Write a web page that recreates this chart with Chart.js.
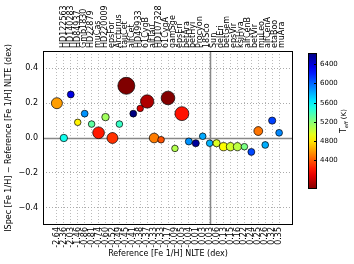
<!DOCTYPE html>
<html>
<head>
<meta charset="utf-8">
<script src="https://cdn.jsdelivr.net/npm/chart.js@4.4.0/dist/chart.umd.min.js"></script>
<style>
  body { margin: 0; background: #fff; }
  canvas { display: block; }
</style>
</head>
<body>
<canvas id="feChart" width="354" height="264"></canvas>
<script>
// данные
const stars = ['HD122563', 'HD140283', 'HD84937', 'Gmb1830', 'HD22879', 'muCas', 'HD220009', 'epsFor', 'Arcturus', 'tauCet', 'alfCet', 'HD49933', '61CygB', 'alfTau', 'HD107328', '61CygA', 'gamSge', 'epsEri', 'betAra', 'betHyi', 'Procyon', '18Sco', 'Sun', 'delEri', 'betGem', 'epsVir', 'ksiHya', 'alfCenB', 'betVir', 'muLeo', 'alfCenA', 'etaBoo', 'muAra'];
const refFeH = ['-2.64', '-2.36', '-2.03', '-1.46', '-0.86', '-0.81', '-0.74', '-0.60', '-0.52', '-0.49', '-0.45', '-0.41', '-0.38', '-0.37', '-0.33', '-0.33', '-0.17', '-0.09', '-0.05', '-0.04', '0.01', '0.03', '0.03', '0.06', '0.13', '0.15', '0.16', '0.22', '0.24', '0.25', '0.26', '0.32', '0.35'];
const diffFeH = [0.20, 0.00, 0.25, 0.09, 0.14, 0.08, 0.03, 0.12, 0.00, 0.08, 0.30, 0.14, 0.17, 0.21, 0.00, -0.01, 0.23, -0.06, 0.14, -0.02, -0.03, 0.01, -0.03, -0.03, -0.05, -0.05, -0.05, -0.05, -0.08, 0.04, -0.04, 0.10, 0.03];
const teff = [4587, 5522, 6356, 4827, 5868, 5308, 4217, 5123, 4286, 5414, 3796, 6635, 4044, 3927, 4496, 4374, 3807, 5076, 4197, 5873, 6554, 5810, 5777, 4954, 4858, 4983, 5044, 5231, 6083, 4474, 5792, 6099, 5902];
const logg = [1.61, 3.58, 4.15, 4.60, 4.27, 4.49, 1.43, 3.52, 1.64, 4.49, 0.68, 4.20, 4.67, 1.11, 2.09, 4.43, 1.05, 4.61, 1.01, 3.98, 4.00, 4.44, 4.44, 3.75, 2.90, 2.77, 2.88, 4.53, 4.10, 2.51, 4.31, 3.80, 4.30];
const yTicks = [-0.4, -0.2, 0.0, 0.2, 0.4];
const teffTicks = [4400, 4800, 5200, 5600, 6000, 6400];
const sunIndex = stars.indexOf('Sun');

const FONT = 'DejaVu Sans';
const tMin = Math.min(...teff);
const tMax = Math.max(...teff);

// jet_r: горячие звёзды синие, холодные красные
function jet(t) {
    const c = v => Math.round(255 * Math.max(0, Math.min(1, v)));
    return 'rgb(' + c(1.5 - Math.abs(4 * t - 3)) + ',' + c(1.5 - Math.abs(4 * t - 2)) + ',' + c(1.5 - Math.abs(4 * t - 1)) + ')';
}
function teffColor(T) {
    return jet(1 - (T - tMin) / (tMax - tMin));
}

// рамка, нулевая линия и линия Солнца
const framePlugin = {
    id: 'frame',
    beforeDatasetsDraw(chart) {
        const { ctx, chartArea: a, scales } = chart;
        ctx.save();
        ctx.strokeStyle = '#888';
        ctx.lineWidth = 1.5;
        const y0 = Math.round(scales.y.getPixelForValue(0)) + 0.5;
        const xs = Math.round(scales.x.getPixelForValue(sunIndex)) + 0.5;
        ctx.beginPath();
        ctx.moveTo(a.left, y0); ctx.lineTo(a.right, y0);
        ctx.moveTo(xs, a.top); ctx.lineTo(xs, a.bottom);
        ctx.stroke();
        ctx.strokeStyle = '#000';
        ctx.lineWidth = 1;
        ctx.strokeRect(a.left + 0.5, a.top + 0.5, a.right - a.left - 1, a.bottom - a.top - 1);
        ctx.restore();
    }
};

// цветовая шкала Teff
const colorbarPlugin = {
    id: 'colorbar',
    afterDraw(chart) {
        const ctx = chart.ctx;
        const left = 308, width = 9, top = 53, bottom = 189;
        const yOf = T => bottom - (T - tMin) / (tMax - tMin) * (bottom - top);
        const grad = ctx.createLinearGradient(0, top, 0, bottom);
        for (let i = 0; i <= 20; i++) {
            grad.addColorStop(i / 20, jet(i / 20));
        }
        ctx.save();
        ctx.fillStyle = grad;
        ctx.fillRect(left, top, width, bottom - top);
        ctx.strokeStyle = '#000';
        ctx.lineWidth = 1;
        ctx.strokeRect(left + 0.5, top + 0.5, width - 1, bottom - top - 1);
        ctx.fillStyle = '#000';
        ctx.font = '7px "' + FONT + '"';
        ctx.textAlign = 'left';
        ctx.textBaseline = 'middle';
        teffTicks.forEach(T => {
            const y = Math.round(yOf(T)) + 0.5;
            ctx.beginPath();
            ctx.moveTo(left + width - 3, y); ctx.lineTo(left + width, y);
            ctx.stroke();
            ctx.fillText(String(T), left + width + 3, y);
        });
        // подпись T_eff (K)
        ctx.translate(343, (top + bottom) / 2);
        ctx.rotate(-Math.PI / 2);
        ctx.font = '8px "' + FONT + '"';
        const wT = ctx.measureText('T').width;
        ctx.font = 'italic 5px "' + FONT + '"';
        const wE = ctx.measureText('eff').width;
        ctx.font = '7px "' + FONT + '"';
        const wK = ctx.measureText(' (K)').width;
        let x = -(wT + wE + wK) / 2;
        ctx.textBaseline = 'alphabetic';
        ctx.font = '8px "' + FONT + '"';
        ctx.fillText('T', x, 3);
        x += wT;
        ctx.font = 'italic 5px "' + FONT + '"';
        ctx.fillText('eff', x, 5);
        x += wE;
        ctx.font = '7px "' + FONT + '"';
        ctx.fillText(' (K)', x, 3);
        ctx.restore();
    }
};

const feChart = new Chart(document.getElementById('feChart'), {
    type: 'scatter',
    data: {
        datasets: [{
            data: diffFeH.map((v, i) => ({ x: i, y: v })),
            pointRadius: logg.map(g => 7 / Math.sqrt(g)),
            pointBackgroundColor: teff.map(teffColor),
            pointBorderColor: '#000',
            pointBorderWidth: 0.7
        }]
    },
    options: {
        responsive: false,
        animation: false,
        devicePixelRatio: 1,
        layout: { padding: { left: 0, right: 61, top: 0, bottom: 0 } },
        plugins: {
            legend: { display: false },
            tooltip: { enabled: false }
        },
        scales: {
            x: {
                type: 'linear',
                position: 'bottom',
                min: -2,
                max: 34,
                afterBuildTicks: axis => { axis.ticks = refFeH.map((_, i) => ({ value: i })); },
                afterFit: axis => { axis.height = 39; },
                ticks: {
                    autoSkip: false,
                    minRotation: 90,
                    maxRotation: 90,
                    padding: 2,
                    color: '#000',
                    font: { family: FONT, size: 8 },
                    callback: (v, i) => refFeH[i]
                },
                grid: { color: '#bbb', drawTicks: false },
                border: { display: false, dash: [1, 2] },
                title: {
                    display: true,
                    text: 'Reference [Fe 1/H] NLTE (dex)',
                    color: '#000',
                    font: { family: FONT, size: 8 },
                    padding: { top: 0, bottom: 5 }
                }
            },
            x2: {
                type: 'linear',
                position: 'top',
                min: -3.08,
                max: 33.63,
                afterBuildTicks: axis => { axis.ticks = stars.map((_, i) => ({ value: i })); },
                afterFit: axis => { axis.height = 51; },
                ticks: {
                    autoSkip: false,
                    minRotation: 90,
                    maxRotation: 90,
                    padding: 3,
                    labelOffset: 9.6,
                    color: '#000',
                    font: { family: FONT, size: 8 },
                    callback: (v, i) => stars[i]
                },
                grid: { display: false, drawTicks: false },
                border: { display: false }
            },
            y: {
                min: -0.5,
                max: 0.5,
                afterBuildTicks: axis => { axis.ticks = yTicks.map(v => ({ value: v })); },
                afterFit: axis => { axis.width = 43; },
                ticks: {
                    padding: 5,
                    color: '#000',
                    font: { family: FONT, size: 8 },
                    callback: v => v.toFixed(1).replace('-', '\u2212')
                },
                grid: {
                    color: c => (c.tick && c.tick.value === 0) ? 'rgba(0,0,0,0)' : '#aaa',
                    drawTicks: false
                },
                border: { display: false, dash: [1, 2] },
                title: {
                    display: true,
                    text: 'ISpec [Fe 1/H] \u2212 Reference [Fe 1/H] NLTE (dex)',
                    color: '#000',
                    font: { family: FONT, size: 8 },
                    padding: { top: 4, bottom: 0 }
                }
            }
        }
    },
    plugins: [framePlugin, colorbarPlugin]
});
</script>
</body>
</html>
